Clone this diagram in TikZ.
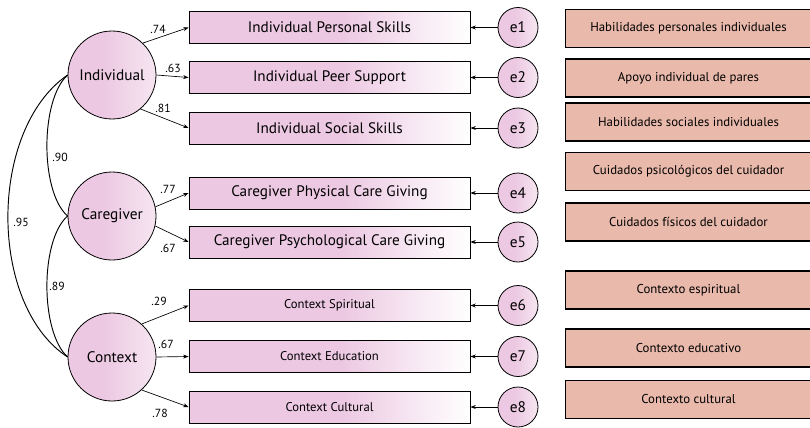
\documentclass[tikz,border=0pt]{standalone}
\usepackage{fontspec}
\setmainfont{PT Sans}
\usetikzlibrary{arrows.meta}
\definecolor{boxpink}{RGB}{236,200,226}
\definecolor{lightpink}{RGB}{246,230,241}
\definecolor{salmon}{RGB}{233,185,171}
\pgfdeclarehorizontalshading{boxshade}{100bp}{color(0bp)=(boxpink); color(25bp)=(boxpink); color(52bp)=(boxpink); color(75bp)=(white); color(100bp)=(white)}
\pgfdeclarehorizontalshading{circshade}{100bp}{color(0bp)=(boxpink); color(25bp)=(boxpink); color(45bp)=(boxpink); color(75bp)=(lightpink); color(100bp)=(lightpink)}
\tikzset{
  latent/.style={circle, draw=black, line width=0.6pt, shading=circshade, minimum size=66pt, inner sep=0pt, font=\fontsize{11.5}{13}\selectfont},
  errc/.style={circle, draw=black, line width=0.6pt, shading=circshade, minimum size=30pt, inner sep=0pt, font=\fontsize{11.5}{13}\selectfont},
  indbox/.style={rectangle, draw=black, line width=0.7pt, shading=boxshade, minimum width=210.75pt, minimum height=24pt, inner sep=0pt, font=\fontsize{11.4}{13}\selectfont},
  ctxbox/.style={indbox, font=\fontsize{9.5}{11}\selectfont},
  spbox/.style={rectangle, draw=black, line width=0.8pt, fill=salmon, minimum width=184.5pt, minimum height=28.5pt, inner sep=0pt, font=\fontsize{9.6}{11}\selectfont},
  coef/.style={inner sep=0pt, font=\fontsize{8.8}{10}\selectfont},
  load/.style={line width=0.5pt, -{Stealth[length=4pt,width=3pt]}},
  cov/.style={line width=0.7pt}
}
\begin{document}
\begin{tikzpicture}[x=0.75pt,y=-0.75pt]
\useasboundingbox (0,0) rectangle (810,428);
% latent variables
\node[latent] (ind) at (112,75) {Individual};
\node[latent] (car) at (112,216) {Caregiver};
\node[latent] (ctx) at (112,357) {Context};
% indicators
\node[indbox] (b1) at (329.5,27.5) {Individual Personal Skills};
\node[indbox] (b2) at (329.5,77.5) {Individual Peer Support};
\node[indbox] (b3) at (329.5,128) {Individual Social Skills};
\node[indbox] (b4) at (329.5,193) {Caregiver Physical Care Giving};
\node[indbox] (b5) at (329.5,242) {Caregiver Psychological Care Giving};
\node[ctxbox] (b6) at (329.5,305.5) {Context Spiritual};
\node[ctxbox] (b7) at (329.5,356.5) {Context Education};
\node[ctxbox] (b8) at (329.5,407) {Context Cultural};
% errors
\foreach \i/\y in {1/27.5,2/77.5,3/128,4/193,5/242,6/305.5,7/356.5,8/407}{
  \node[errc] (e\i) at (518,\y) {e\i};
  \draw[load] (e\i) -- (b\i.east);
}
% Spanish boxes
\node[spbox] (s1) at (688.5,28.5) {Habilidades personales individuales};
\node[spbox] (s2) at (688.5,78) {Apoyo individual de pares};
\node[spbox] (s3) at (688.5,122) {Habilidades sociales individuales};
\node[spbox] (s4) at (688.5,171.5) {Cuidados psicológicos del cuidador};
\node[spbox] (s5) at (688.5,222) {Cuidados físicos del cuidador};
\node[spbox] (s6) at (688.5,290) {Contexto espiritual};
\node[spbox] (s7) at (688.5,348) {Contexto educativo};
\node[spbox] (s8) at (688.5,399.5) {Contexto cultural};
% loadings
\draw[load] (ind.46) -- (b1.west);
\draw[load] (ind.0) -- (b2.west);
\draw[load] (ind.-50) -- (b3.west);
\draw[load] (car.12) -- (b4.west);
\draw[load] (car.-13) -- (b5.west);
\draw[load] (ctx.48) -- (b6.west);
\draw[load] (ctx.0) -- (b7.west);
\draw[load] (ctx.-48) -- (b8.west);
\node[coef] (c1) at (158,29) {.74};
\node[coef] (c2) at (173,68) {.63};
\node[coef] (c3) at (163,108) {.81};
\node[coef] (c4) at (168,189) {.77};
\node[coef] (c5) at (168,248) {.67};
\node[coef] (c6) at (159,301) {.29};
\node[coef] (c7) at (166,344) {.67};
\node[coef] (c8) at (160,413) {.78};
% covariances
\draw[cov] (ind.west) .. controls (40,100) and (40,192) .. (car.west);
\draw[cov] (ind.west) .. controls (-12,130) and (-12,305) .. (ctx.west);
\draw[cov] (car.west) .. controls (40,240) and (40,332) .. (ctx.west);
\node[coef] (r1) at (60,157) {.90};
\node[coef] (r2) at (21,222) {.95};
\node[coef] (r3) at (57,286) {.89};
\end{tikzpicture}
\end{document}
